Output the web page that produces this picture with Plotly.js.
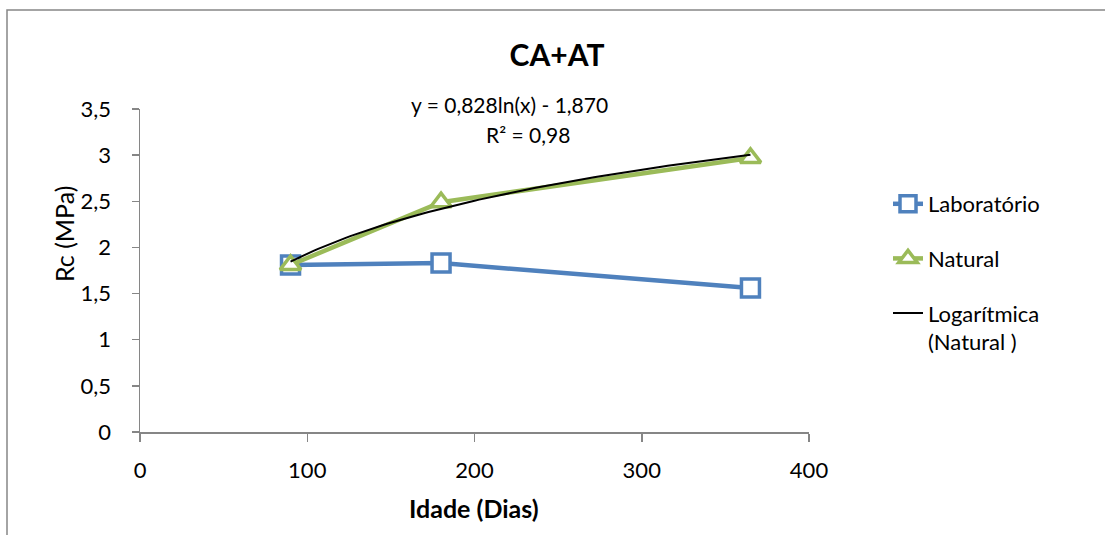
<!DOCTYPE html>
<html>
<head>
<meta charset="utf-8">
<script src="https://cdn.plot.ly/plotly-3.0.1.min.js"></script>
<style>
  html, body { margin: 0; padding: 0; background: #fff; }
  #chart { width: 1105px; height: 535px; }
</style>
</head>
<body>
<div id="chart"></div>
<script>
// ---- data ----
const idade = [90, 180, 365];
const laboratorio = [1.81, 1.83, 1.56];
const natural = [1.81, 2.49, 2.97];
const seriesNames = ['Laboratório', 'Natural', 'Logarítmica<br>(Natural )'];
const chartTitle = 'CA+AT';
const eqText = 'y = 0,828ln(x) - 1,870';
const r2Text = 'R² = 0,98';
const xTitle = 'Idade (Dias)';
const yTitle = 'Rc (MPa)';

// logarithmic least-squares trendline fitted to the Natural series
function logFit(xs, ys) {
  const lx = xs.map(Math.log);
  const n = xs.length;
  const mx = lx.reduce((a, b) => a + b, 0) / n;
  const my = ys.reduce((a, b) => a + b, 0) / n;
  let sxy = 0, sxx = 0;
  for (let i = 0; i < n; i++) { sxy += (lx[i] - mx) * (ys[i] - my); sxx += (lx[i] - mx) * (lx[i] - mx); }
  const a = sxy / sxx;
  return { a: a, b: my - a * mx };
}
const fit = logFit(idade, natural);
const trendX = [], trendY = [];
const x0 = Math.min(...idade), x1 = Math.max(...idade);
for (let i = 0; i <= 100; i++) {
  const x = x0 + (x1 - x0) * i / 100;
  trendX.push(x);
  trendY.push(fit.a * Math.log(x) + fit.b);
}

const FONT = 'Lato, "Open Sans", sans-serif';
const BLUE = '#4F81BD', GREEN = '#9BBB59', AXIS = '#868686';

const traces = [
  { x: idade, y: laboratorio, name: seriesNames[0], type: 'scatter', mode: 'lines+markers',
    legendgroup: 'a',
    line: { color: BLUE, width: 4.5 },
    marker: { symbol: 'square', size: 18, color: '#ffffff', line: { color: BLUE, width: 3.5 } } },
  { x: idade, y: natural, name: seriesNames[1], type: 'scatter', mode: 'lines+markers',
    legendgroup: 'b',
    line: { color: GREEN, width: 4.5 },
    marker: { symbol: 'triangle-up', size: 18, color: '#ffffff', line: { color: GREEN, width: 3.5 } } },
  { x: trendX, y: trendY, name: seriesNames[2], type: 'scatter', mode: 'lines',
    legendgroup: 'c',
    line: { color: '#000000', width: 2 } }
];

const plotL = 140, plotR = 809, plotT = 109, plotB = 432;
const W = 1105, H = 535;
const pw = plotR - plotL, ph = plotB - plotT;
const px = v => (v - plotL) / pw;
const py = v => (plotB - v) / ph;

const layout = {
  width: W, height: H,
  margin: { l: plotL, r: W - plotR, t: plotT, b: H - plotB, pad: 0 },
  paper_bgcolor: '#ffffff', plot_bgcolor: '#ffffff',
  separators: ', ',
  font: { family: FONT, size: 22, color: '#000000' },
  title: { text: '<b>' + chartTitle + '</b>', font: { family: FONT, size: 30, color: '#000' },
           x: 557 / W, xref: 'container', xanchor: 'center', y: 1 - 55 / H, yref: 'container', yanchor: 'middle' },
  showlegend: true,
  legend: { x: px(888), xanchor: 'left', y: py(183), yanchor: 'top',
            font: { family: FONT, size: 22, color: '#000' },
            traceorder: 'grouped', tracegroupgap: 23, valign: 'top',
            bgcolor: 'rgba(0,0,0,0)' },
  xaxis: { range: [0, 400], dtick: 100, tick0: 0, showgrid: false, zeroline: false,
           showline: true, linecolor: AXIS, linewidth: 1.5,
           ticks: 'outside', ticklen: 8, tickcolor: AXIS, tickwidth: 1.5,
           ticklabelstandoff: 10,
           tickfont: { family: FONT, size: 22, color: '#000' } },
  yaxis: { range: [0, 3.5], dtick: 0.5, tick0: 0, showgrid: false, zeroline: false,
           showline: true, linecolor: AXIS, linewidth: 1.5,
           ticks: 'outside', ticklen: 7, tickcolor: AXIS, tickwidth: 1.5,
           ticklabelstandoff: 16,
           tickfont: { family: FONT, size: 22, color: '#000' } },
  annotations: [
    { text: eqText, xref: 'paper', yref: 'paper', x: px(509), y: py(104), xanchor: 'center', yanchor: 'middle',
      showarrow: false, font: { family: FONT, size: 21, color: '#000' } },
    { text: r2Text, xref: 'paper', yref: 'paper', x: px(528), y: py(134), xanchor: 'center', yanchor: 'middle',
      showarrow: false, font: { family: FONT, size: 21, color: '#000' } },
    { text: '<b>' + xTitle + '</b>', xref: 'paper', yref: 'paper', x: px(474), y: py(508), xanchor: 'center', yanchor: 'middle',
      showarrow: false, font: { family: FONT, size: 25, color: '#000' } },
    { text: yTitle, xref: 'paper', yref: 'paper', x: px(64), y: py(234), xanchor: 'center', yanchor: 'middle',
      textangle: -90, showarrow: false, font: { family: FONT, size: 25, color: '#000' } }
  ],
  shapes: [
    { type: 'rect', xref: 'paper', yref: 'paper', x0: px(7), x1: px(1130), y0: py(560), y1: py(10),
      line: { color: AXIS, width: 1.5 }, fillcolor: 'rgba(0,0,0,0)', layer: 'below' }
  ]
};

Plotly.newPlot('chart', traces, layout, { displayModeBar: false, staticPlot: true });
</script>
</body>
</html>
